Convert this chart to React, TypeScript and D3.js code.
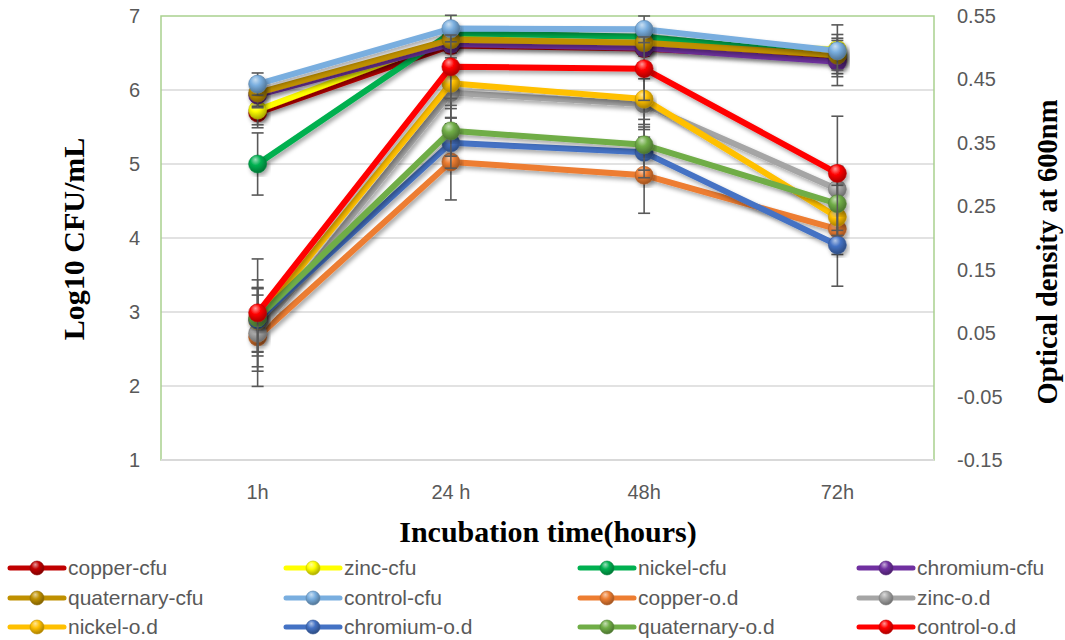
import { useEffect, useRef } from 'react'
import * as d3 from 'd3'

const categories = ['1h', '24 h', '48h', '72h']
const leftTicks = [1, 2, 3, 4, 5, 6, 7]
const rightTicks = [-0.15, -0.05, 0.05, 0.15, 0.25, 0.35, 0.45, 0.55]

const seriesNames = [
  'copper-cfu', 'zinc-cfu', 'nickel-cfu', 'chromium-cfu',
  'quaternary-cfu', 'control-cfu', 'copper-o.d', 'zinc-o.d',
  'nickel-o.d', 'chromium-o.d', 'quaternary-o.d', 'control-o.d'
]
const seriesColors = [
  '#C00000', '#FFFF00', '#00B050', '#7030A0',
  '#BF9000', '#79AEDF', '#ED7D31', '#A5A5A5',
  '#FFC000', '#4472C4', '#70AD47', '#FF0000'
]
// 'L' = Log10 CFU/mL (left axis), 'R' = optical density (right axis)
const seriesAxis = ['L', 'L', 'L', 'L', 'L', 'L', 'R', 'R', 'R', 'R', 'R', 'R']

// log10 CFU/mL
const copperCfu = [5.69, 6.6, 6.56, 6.42]
const zincCfu = [5.73, 6.7, 6.62, 6.55]
const nickelCfu = [5.0, 6.77, 6.72, 6.47]
const chromiumCfu = [5.93, 6.62, 6.57, 6.38]
const quaternaryCfu = [5.96, 6.68, 6.64, 6.47]
const controlCfu = [6.08, 6.83, 6.82, 6.53]
// OD 600nm
const copperOd = [0.044, 0.32, 0.299, 0.214]
const zincOd = [0.05, 0.429, 0.411, 0.277]
const nickelOd = [0.07, 0.444, 0.419, 0.233]
const chromiumOd = [0.071, 0.35, 0.335, 0.189]
const quaternaryOd = [0.074, 0.369, 0.347, 0.254]
const controlOd = [0.082, 0.47, 0.467, 0.302]

// error bar half-lengths
const copperCfuErr = [0.2, 0.1, 0.1, 0.2]
const zincCfuErr = [0.2, 0.1, 0.1, 0.2]
const nickelCfuErr = [0.42, 0.1, 0.1, 0.15]
const chromiumCfuErr = [0.15, 0.1, 0.1, 0.32]
const quaternaryCfuErr = [0.2, 0.1, 0.1, 0.2]
const controlCfuErr = [0.15, 0.18, 0.18, 0.35]
const copperOdErr = [0.078, 0.06, 0.06, 0.04]
const zincOdErr = [0.06, 0.04, 0.04, 0.036]
const nickelOdErr = [0.05, 0.04, 0.04, 0.05]
const chromiumOdErr = [0.05, 0.04, 0.04, 0.065]
const quaternaryOdErr = [0.06, 0.04, 0.04, 0.05]
const controlOdErr = [0.085, 0.05, 0.05, 0.09]

const seriesValues = [
  copperCfu, zincCfu, nickelCfu, chromiumCfu, quaternaryCfu, controlCfu,
  copperOd, zincOd, nickelOd, chromiumOd, quaternaryOd, controlOd
]
const seriesErrors = [
  copperCfuErr, zincCfuErr, nickelCfuErr, chromiumCfuErr, quaternaryCfuErr, controlCfuErr,
  copperOdErr, zincOdErr, nickelOdErr, chromiumOdErr, quaternaryOdErr, controlOdErr
]

const WIDTH = 1065
const HEIGHT = 640
const SANS = '"Liberation Sans", Arial, sans-serif'
const SERIF = '"Liberation Serif", "Times New Roman", serif'

export default function App() {
  const svgRef = useRef<SVGSVGElement>(null)

  useEffect(() => {
    if (!svgRef.current) return
    const svg = d3.select(svgRef.current)
    svg.selectAll('*').remove()

    const plot = { left: 161, right: 934, top: 16, bottom: 460 }

    const x = d3.scalePoint<string>().domain(categories).range([plot.left, plot.right]).padding(0.5)
    const yL = d3.scaleLinear().domain([1, 7]).range([plot.bottom, plot.top])
    const yR = d3.scaleLinear().domain([-0.15, 0.55]).range([plot.bottom, plot.top])

    const defs = svg.append('defs')
    const shadow = defs.append('filter').attr('id', 'shd')
      .attr('x', '-20%').attr('y', '-20%').attr('width', '140%').attr('height', '140%')
    shadow.append('feDropShadow')
      .attr('dx', 2).attr('dy', 3).attr('stdDeviation', 2)
      .attr('flood-color', '#000').attr('flood-opacity', 0.35)

    seriesColors.forEach((c, i) => {
      const g = defs.append('radialGradient').attr('id', `ball${i}`)
        .attr('cx', '40%').attr('cy', '35%').attr('r', '65%')
        .attr('fx', '38%').attr('fy', '25%')
      g.append('stop').attr('offset', '0%').attr('stop-color', d3.interpolateRgb(c, '#fff')(0.6))
      g.append('stop').attr('offset', '45%').attr('stop-color', c)
      g.append('stop').attr('offset', '100%').attr('stop-color', d3.color(c)!.darker(1.1).formatHex())
    })

    // gridlines
    svg.append('g').selectAll('line')
      .data(leftTicks.slice(1, -1))
      .enter().append('line')
      .attr('x1', plot.left).attr('x2', plot.right)
      .attr('y1', d => yL(d)).attr('y2', d => yL(d))
      .attr('stroke', '#D9D9D9').attr('stroke-width', 1.5)

    // plot border
    svg.append('rect')
      .attr('x', plot.left).attr('y', plot.top)
      .attr('width', plot.right - plot.left).attr('height', plot.bottom - plot.top)
      .attr('fill', 'none').attr('stroke', '#A9D18E').attr('stroke-width', 1.5)
    svg.append('line')
      .attr('x1', plot.left).attr('x2', plot.right)
      .attr('y1', plot.bottom).attr('y2', plot.bottom)
      .attr('stroke', '#D9D9D9').attr('stroke-width', 2)

    // tick labels
    svg.append('g').selectAll('text')
      .data(leftTicks).enter().append('text')
      .attr('x', 140).attr('y', d => yL(d)).attr('dy', '0.35em')
      .attr('text-anchor', 'end')
      .style('font-family', SANS).style('font-size', '20px').style('fill', '#595959')
      .text(d => d)

    svg.append('g').selectAll('text')
      .data(rightTicks).enter().append('text')
      .attr('x', 957).attr('y', d => yR(d)).attr('dy', '0.35em')
      .attr('text-anchor', 'start')
      .style('font-family', SANS).style('font-size', '20px').style('fill', '#595959')
      .text(d => d.toFixed(2))

    svg.append('g').selectAll('text')
      .data(categories).enter().append('text')
      .attr('x', d => x(d)!).attr('y', 492).attr('dy', '0.35em')
      .attr('text-anchor', 'middle')
      .style('font-family', SANS).style('font-size', '20px').style('fill', '#595959')
      .text(d => d)

    // axis titles
    svg.append('text')
      .attr('transform', 'translate(73,239) rotate(-90)')
      .attr('text-anchor', 'middle').attr('dy', '0.35em')
      .style('font-family', SERIF).style('font-weight', 'bold').style('font-size', '30px')
      .text('Log10 CFU/mL')
    svg.append('text')
      .attr('transform', 'translate(1047,252) rotate(-90)')
      .attr('text-anchor', 'middle').attr('dy', '0.35em')
      .style('font-family', SERIF).style('font-weight', 'bold').style('font-size', '28.5px')
      .text('Optical density at 600nm')
    svg.append('text')
      .attr('x', 548).attr('y', 531).attr('dy', '0.35em')
      .attr('text-anchor', 'middle')
      .style('font-family', SERIF).style('font-weight', 'bold').style('font-size', '30px')
      .text('Incubation time(hours)')

    // series
    const layer = svg.append('g')
    seriesNames.forEach((name, i) => {
      const y = seriesAxis[i] === 'L' ? yL : yR
      const vals = seriesValues[i]
      const errs = seriesErrors[i]
      const pts = vals.map((v, j) => ({ cat: categories[j], v, e: errs[j] }))
      const g = layer.append('g').attr('class', name)

      const line = d3.line<{ cat: string; v: number }>()
        .x(d => x(d.cat)!).y(d => y(d.v))
      g.append('path')
        .attr('d', line(pts))
        .attr('fill', 'none')
        .attr('stroke', seriesColors[i])
        .attr('stroke-width', 6)
        .attr('stroke-linejoin', 'round')
        .attr('filter', 'url(#shd)')

      // error bars
      const eb = g.append('g').attr('stroke', '#595959').attr('stroke-width', 1.6)
      pts.forEach(p => {
        const cx = x(p.cat)!
        const y0 = y(p.v + p.e)
        const y1 = y(p.v - p.e)
        eb.append('line').attr('x1', cx).attr('x2', cx).attr('y1', y0).attr('y2', y1)
        eb.append('line').attr('x1', cx - 6).attr('x2', cx + 6).attr('y1', y0).attr('y2', y0)
        eb.append('line').attr('x1', cx - 6).attr('x2', cx + 6).attr('y1', y1).attr('y2', y1)
      })

      g.selectAll('circle.m')
        .data(pts).enter().append('circle')
        .attr('class', 'm')
        .attr('cx', d => x(d.cat)!).attr('cy', d => y(d.v))
        .attr('r', 9)
        .attr('fill', `url(#ball${i})`)
        .attr('stroke', d3.color(seriesColors[i])!.darker(0.8).formatHex())
        .attr('stroke-width', 0.6)
        .attr('filter', 'url(#shd)')
    })

    // legend
    const legendCols = [9, 285, 579, 858]
    const legendRows = [568, 598, 627]
    const legend = svg.append('g')
    seriesNames.forEach((name, i) => {
      const lx = legendCols[i % 4]
      const ly = legendRows[Math.floor(i / 4)]
      const lg = legend.append('g').attr('transform', `translate(${lx},${ly})`)
      lg.append('line')
        .attr('x1', 1).attr('x2', 55).attr('y1', 0).attr('y2', 0)
        .attr('stroke', seriesColors[i]).attr('stroke-width', 5)
        .attr('stroke-linecap', 'round')
      lg.append('circle')
        .attr('cx', 28).attr('cy', 0).attr('r', 7)
        .attr('fill', `url(#ball${i})`)
        .attr('stroke', d3.color(seriesColors[i])!.darker(0.8).formatHex())
        .attr('stroke-width', 0.6)
      lg.append('text')
        .attr('x', 59).attr('y', 0).attr('dy', '0.35em')
        .style('font-family', SANS).style('font-size', '21px').style('fill', '#595959')
        .text(name)
    })
  }, [])

  return (
    <svg
      ref={svgRef}
      width={WIDTH}
      height={HEIGHT}
      style={{ position: 'absolute', left: 0, top: 0, background: '#fff' }}
    />
  )
}
